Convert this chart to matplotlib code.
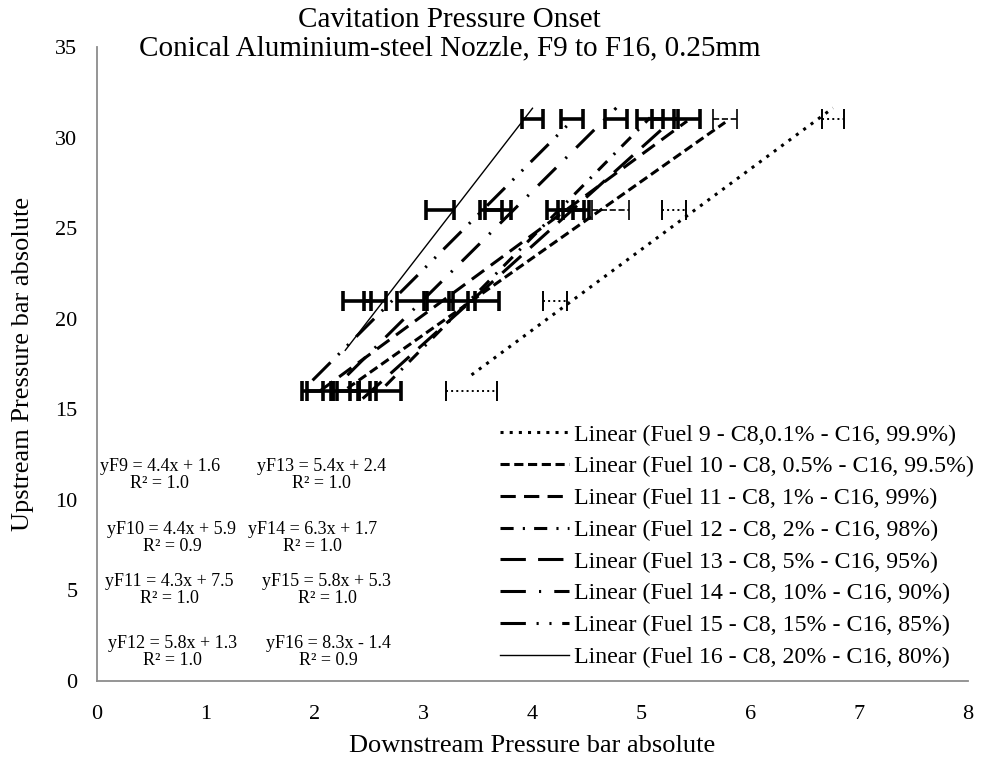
import numpy as np
import matplotlib
matplotlib.use("Agg")
import matplotlib.pyplot as plt

plt.rcParams['font.family'] = ['Liberation Serif', 'DejaVu Serif']

# ---- data ----
levels = [16, 21, 26, 31]  # upstream pressure (bar abs)
f9_x = [3.44, 4.21, 5.30, 6.76]
f10_x = [2.30, 3.35, 4.72, 5.77]
f11_x = [2.05, 3.15, 4.35, 5.42]
f12_x = [2.65, 3.35, 4.25, 5.08]
f13_x = [2.44, 3.55, 4.40, 5.22]
f14_x = [2.30, 2.88, 3.68, 4.77]
f15_x = [1.98, 2.55, 3.62, 4.36]
f16_x = [2.28, 2.39, 3.15, 4.00]

f9_err = [0.23, 0.11, 0.11, 0.10]
f10_err = [0.12, 0.12, 0.17, 0.11]
f11_err = [0.12, 0.12, 0.12, 0.12]
f12_err = [0.14, 0.12, 0.12, 0.12]
f13_err = [0.12, 0.14, 0.12, 0.12]
f14_err = [0.10, 0.12, 0.12, 0.10]
f15_err = [0.10, 0.10, 0.10, 0.10]
f16_err = [0.13, 0.13, 0.13, 0.10]

labels = [
    "Linear (Fuel 9 - C8,0.1% - C16, 99.9%)",
    "Linear (Fuel 10 - C8, 0.5% - C16, 99.5%)",
    "Linear (Fuel 11 - C8, 1% - C16, 99%)",
    "Linear (Fuel 12 - C8, 2% - C16, 98%)",
    "Linear (Fuel 13 - C8, 5% - C16, 95%)",
    "Linear (Fuel 14 - C8, 10% - C16, 90%)",
    "Linear (Fuel 15 - C8, 15% - C16, 85%)",
    "Linear (Fuel 16 - C8, 20% - C16, 80%)",
]
equations = [
    "yF9 = 4.4x + 1.6\nR² = 1.0",
    "yF10 = 4.4x + 5.9\nR² = 0.9",
    "yF11 = 4.3x + 7.5\nR² = 1.0",
    "yF12 = 5.8x + 1.3\nR² = 1.0",
    "yF13 = 5.4x + 2.4\nR² = 1.0",
    "yF14 = 6.3x + 1.7\nR² = 1.0",
    "yF15 = 5.8x + 5.3\nR² = 1.0",
    "yF16 = 8.3x - 1.4\nR² = 0.9",
]

xs = [f9_x, f10_x, f11_x, f12_x, f13_x, f14_x, f15_x, f16_x]
errs = [f9_err, f10_err, f11_err, f12_err, f13_err, f14_err, f15_err, f16_err]

# ---- styles ----
dash_styles = [
    (0, (1, 2)),
    (0, (3, 1.5)),
    (0, (5, 2.7)),
    (0, (4.3, 3, 0.7, 3)),
    (0, (8.3, 4)),
    (0, (8.3, 4.3, 0.7, 4.3)),
    (0, (8.3, 3.5, 0.7, 3.5, 0.7, 3.5)),
    '-',
]
line_w = [2.2, 2.2, 2.2, 2.2, 2.2, 2.2, 2.2, 1.0]
err_style = [':', '--', '-', '-', '-', '-', '-', '-']
err_w = [1.4, 1.2, 2.6, 2.6, 2.6, 2.6, 2.6, 2.6]

fig = plt.figure(figsize=(9.82, 7.59), dpi=100)
ax = fig.add_axes([97/982, 1-681/759, 871/982, 634/759])

for i in range(8):
    x = np.array(xs[i])
    y = np.array(levels, dtype=float)
    eb = ax.errorbar(x, y, xerr=errs[i], fmt='none', ecolor='black',
                     elinewidth=err_w[i], capsize=7, capthick=err_w[i],
                     label='_nolegend_', zorder=3)
    for lc in eb[2]:
        lc.set_linestyle(err_style[i])
    m, b = np.polyfit(x, y, 1)
    xx = np.array([x.min(), x.max()])
    ax.plot(xx, m*xx + b, color='black', linestyle=dash_styles[i],
            linewidth=line_w[i], label=labels[i], zorder=2)

ax.set_xlim(0, 8)
ax.set_ylim(0, 35)
ax.set_xticks(range(0, 9))
ax.set_yticks(range(0, 36, 5))
ax.tick_params(axis='y', length=0, labelsize=16, pad=14)
ax.tick_params(axis='x', length=0, labelsize=16, pad=17)
for s in ['top', 'right']:
    ax.spines[s].set_visible(False)
for s in ['left', 'bottom']:
    ax.spines[s].set_color('#8c8c8c')
    ax.spines[s].set_linewidth(1.3)

ax.set_xlabel("Downstream Pressure bar absolute", fontsize=19, labelpad=8)
ax.set_ylabel("Upstream Pressure bar absolute", fontsize=19, labelpad=15)
fig.text(0.458, 1-7/759, "Cavitation Pressure Onset\nConical Aluminium-steel Nozzle, F9 to F16, 0.25mm",
         ha='center', va='top', fontsize=21, linespacing=1.1)

# trendline equation labels
eq_pos = [
    (0.072, 0.325), (0.086, 0.2255), (0.083, 0.1435), (0.087, 0.0457),
    (0.258, 0.325), (0.247, 0.2255), (0.264, 0.1435), (0.266, 0.0457),
]
for (px, py), t in zip(eq_pos, equations):
    ax.text(px, py, t, transform=ax.transAxes, ha='center', va='center',
            fontsize=13, linespacing=1.05, multialignment='center')

leg = ax.legend(loc='lower left', bbox_to_anchor=(500/982, 1-668/759),
                bbox_transform=fig.transFigure, frameon=False, fontsize=17.2,
                handlelength=2.9, handletextpad=0.2, labelspacing=0.42,
                borderpad=0, borderaxespad=0)

fig.savefig("out.png", dpi=100)
